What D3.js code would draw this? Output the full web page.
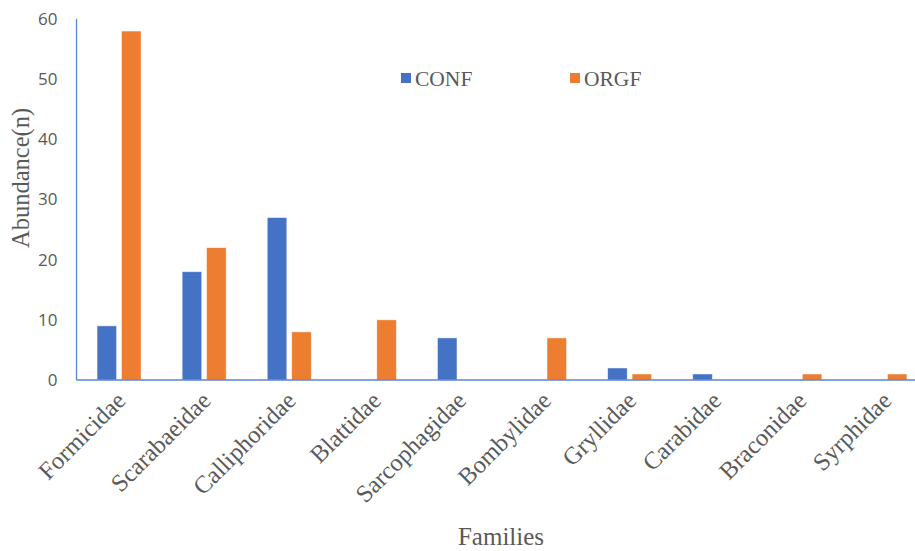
<!DOCTYPE html>
<html>
<head>
<meta charset="utf-8">
<script src="https://cdn.jsdelivr.net/npm/d3@7"></script>
<style>
  body { margin: 0; background: #fff; }
  svg { display: block; }
</style>
</head>
<body>
<div id="plot"></div>
<script>
// chart data
const families = ["Formicidae", "Scarabaeidae", "Calliphoridae", "Blattidae", "Sarcophagidae",
  "Bombylidae", "Gryllidae", "Carabidae", "Braconidae", "Syrphidae"];
const seriesNames = ["CONF", "ORGF"];
const confValues = [9, 18, 27, 0, 7, 0, 2, 1, 0, 0];
const orgfValues = [58, 22, 8, 10, 0, 7, 1, 0, 1, 1];
const yTicks = [0, 10, 20, 30, 40, 50, 60];

const width = 915, height = 551;
const colors = { CONF: "#4472C4", ORGF: "#ED7D31" };
const serif = "'Liberation Serif', 'Times New Roman', serif";
const sans = "'Open Sans', 'Liberation Sans', sans-serif";

const svg = d3.select("#plot").append("svg")
    .attr("width", width)
    .attr("height", height);

const x0 = d3.scaleBand()
    .domain(families)
    .range([76.5, 927.5]);

const x1 = d3.scaleBand()
    .domain(seriesNames)
    .range([x0.bandwidth() / 2 - 22, x0.bandwidth() / 2 + 22])
    .paddingInner(0.2);

const y = d3.scaleLinear()
    .domain([0, 60])
    .range([380, 19]);

const rows = families.map((f, i) => ({ family: f, CONF: confValues[i], ORGF: orgfValues[i] }));

// y tick labels
svg.append("g")
    .attr("transform", "translate(76.5,0)")
    .call(d3.axisLeft(y).tickValues(yTicks).tickSize(0).tickPadding(19))
    .call(g => g.select(".domain").remove())
    .selectAll("text")
    .style("font-family", sans)
    .style("font-size", "17px")
    .attr("fill", "#595959");

// bars
const groups = svg.append("g").selectAll("g")
    .data(rows)
    .enter().append("g")
    .attr("transform", d => `translate(${x0(d.family)},0)`);

groups.selectAll("rect")
    .data(d => seriesNames.map(k => ({ key: k, value: d[k] })))
    .enter().append("rect")
    .attr("x", d => x1(d.key))
    .attr("width", x1.bandwidth())
    .attr("y", d => y(d.value))
    .attr("height", d => y(0) - y(d.value))
    .attr("fill", d => colors[d.key])
    .attr("stroke", "#ffffff")
    .attr("stroke-opacity", 0.6)
    .attr("stroke-width", 0.8);

// axis lines
svg.append("line")
    .attr("x1", 76.5).attr("x2", 76.5)
    .attr("y1", 19).attr("y2", y(0))
    .attr("stroke", "#5b85cf").attr("stroke-width", 1.3);

svg.append("line")
    .attr("x1", 76.5).attr("x2", width)
    .attr("y1", y(0)).attr("y2", y(0))
    .attr("stroke", "#5b85cf").attr("stroke-width", 1.3);

// x labels, rotated
svg.append("g").selectAll("text")
    .data(families)
    .enter().append("text")
    .attr("transform", d => `translate(${x0(d) + x0.bandwidth() / 2 + 8},402) rotate(-45)`)
    .attr("text-anchor", "end")
    .style("font-family", serif)
    .style("font-size", "24.5px")
    .attr("fill", "#595959")
    .text(d => d);

// axis titles
svg.append("text")
    .attr("transform", "translate(29,178) rotate(-90)")
    .attr("text-anchor", "middle")
    .style("font-family", serif)
    .style("font-size", "24.5px")
    .attr("fill", "#595959")
    .text("Abundance(n)");

svg.append("text")
    .attr("x", 501)
    .attr("y", 545)
    .attr("text-anchor", "middle")
    .style("font-family", serif)
    .style("font-size", "25px")
    .attr("fill", "#595959")
    .text("Families");

// legend
const legendX = { CONF: 401, ORGF: 570 };
const legend = svg.append("g").selectAll("g")
    .data(seriesNames)
    .enter().append("g")
    .attr("transform", d => `translate(${legendX[d]},73)`);

legend.append("rect")
    .attr("width", 10)
    .attr("height", 10)
    .attr("fill", d => colors[d]);

legend.append("text")
    .attr("x", 14)
    .attr("y", 13)
    .style("font-family", serif)
    .style("font-size", "21.5px")
    .attr("fill", "#595959")
    .text(d => d);
</script>
</body>
</html>
